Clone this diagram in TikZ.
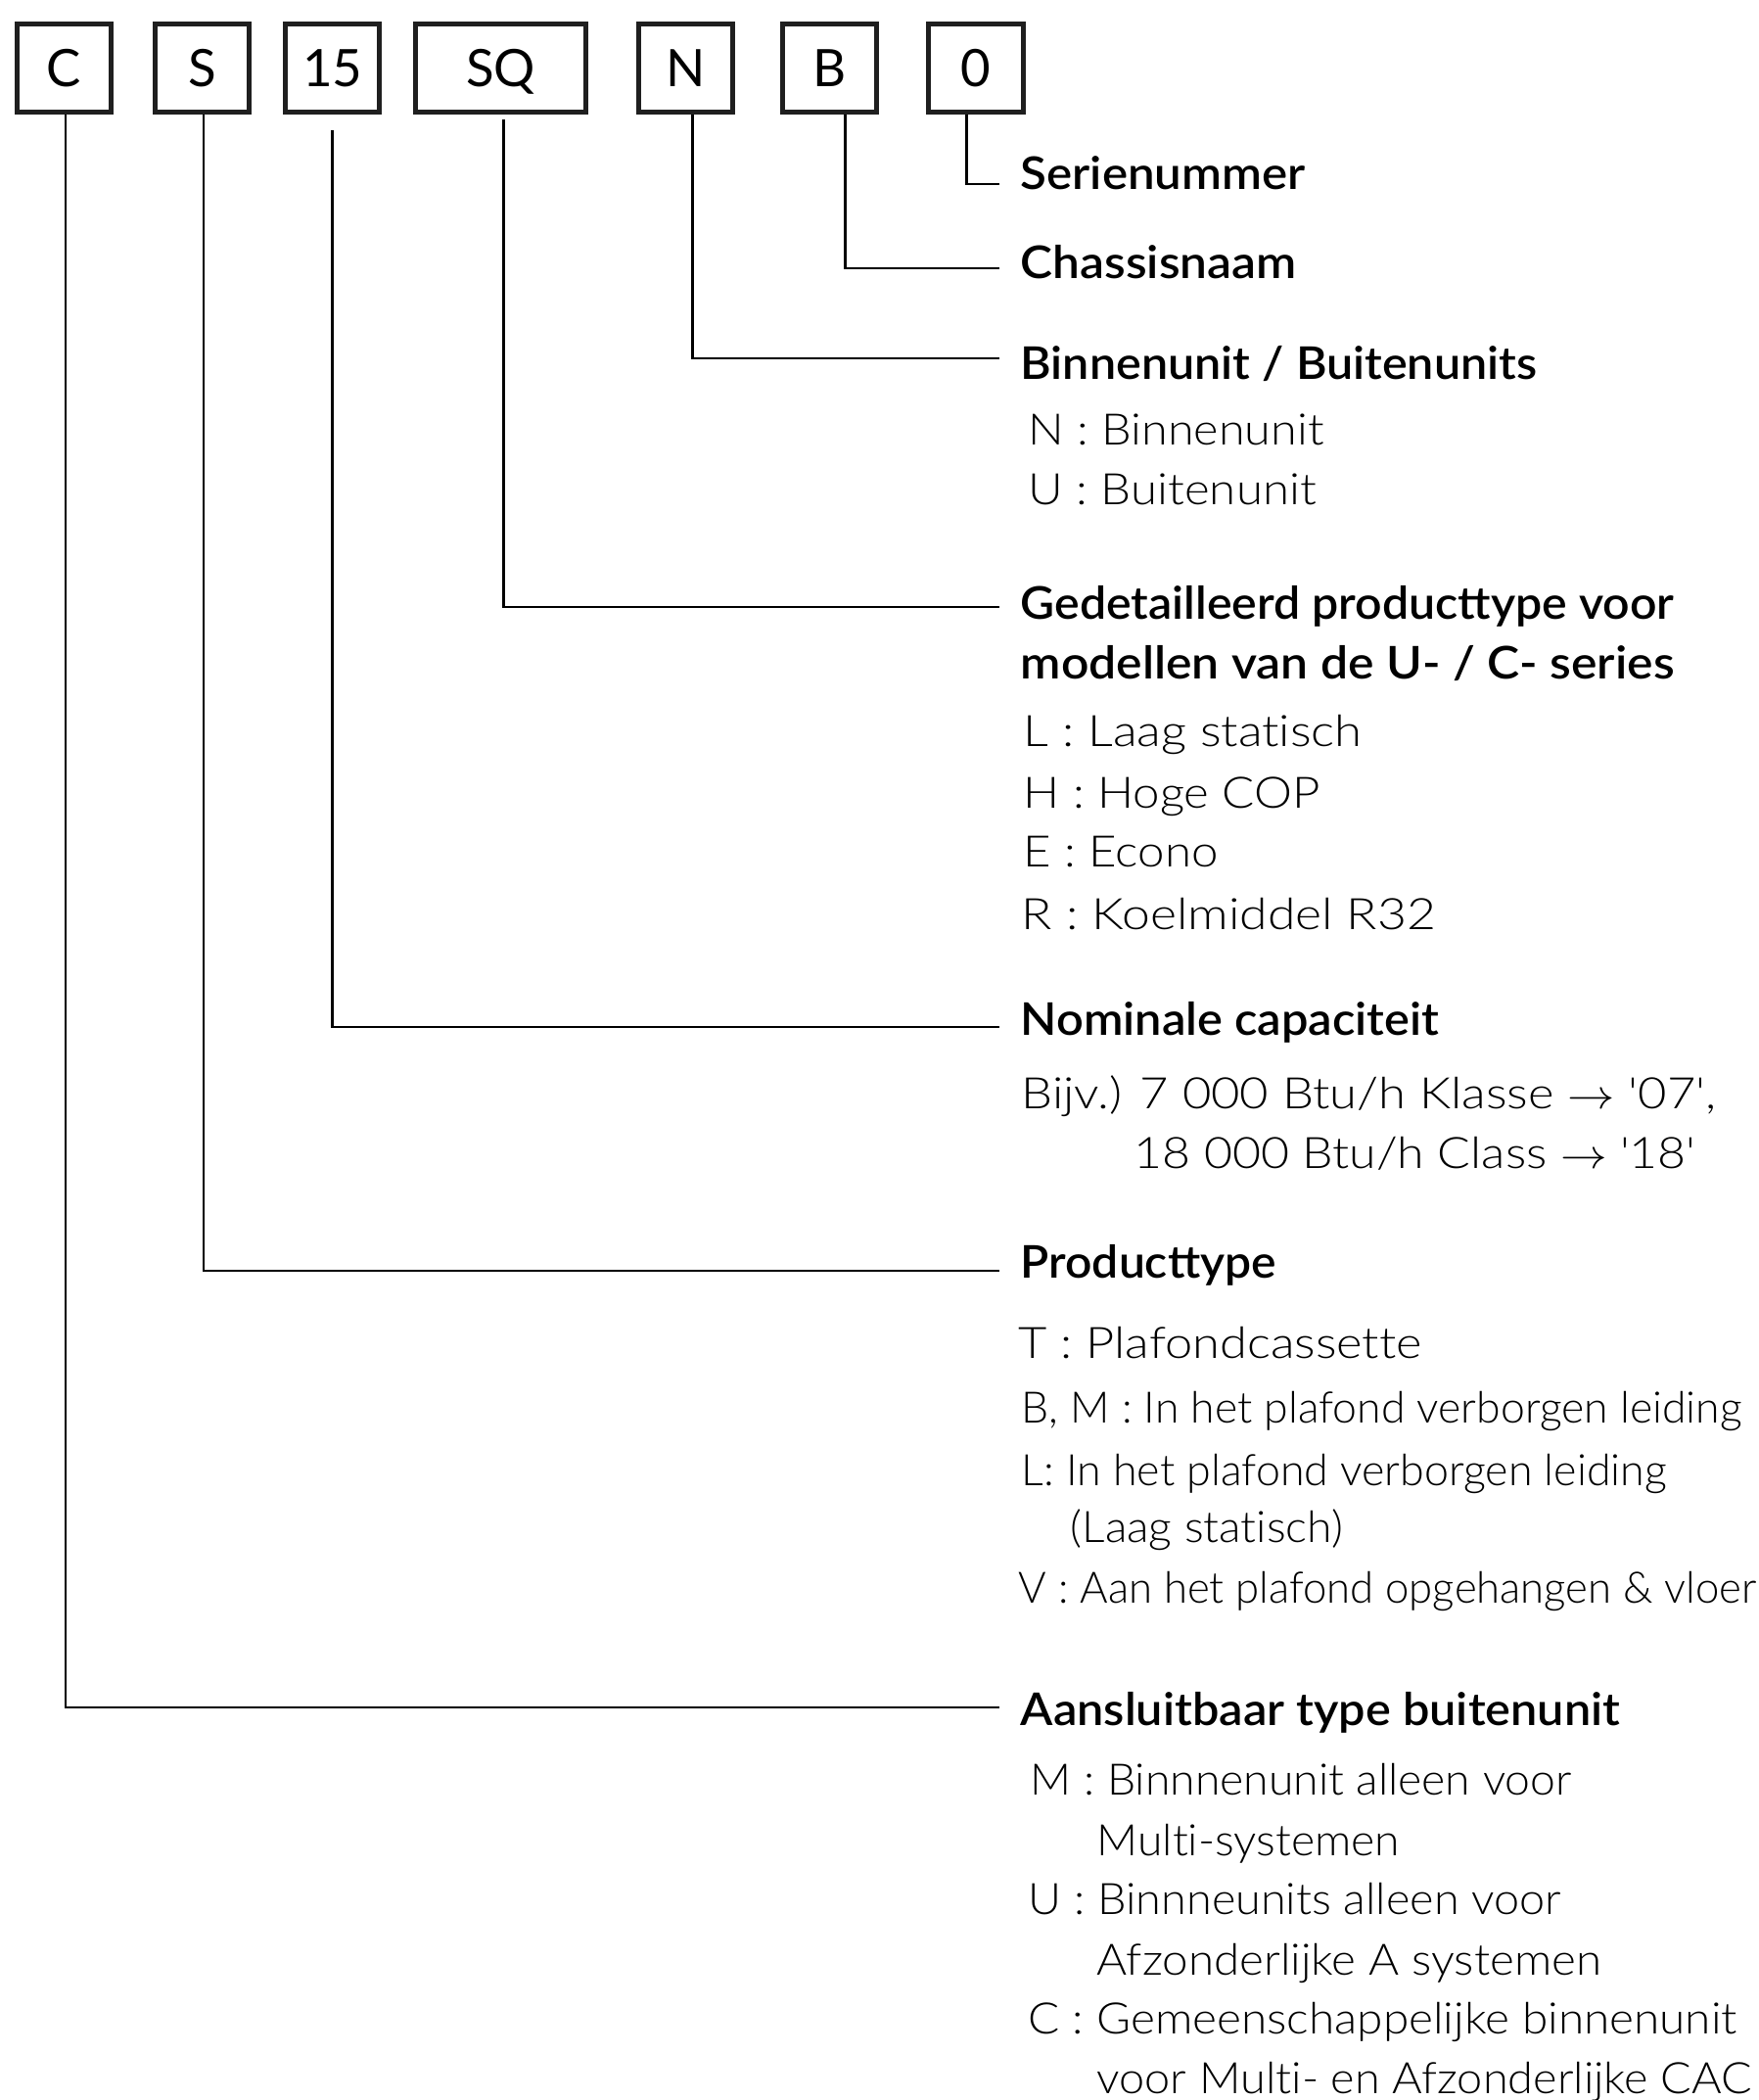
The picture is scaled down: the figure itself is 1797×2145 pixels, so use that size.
\documentclass[tikz,border=0pt]{standalone}
\usepackage{fontspec}
\usepackage{graphicx}
\setmainfont{Lato Light}[Ligatures=NoCommon]
\newfontfamily\boxfont{Lato}
\newfontfamily\headfont{Lato Semibold}
\usetikzlibrary{positioning,calc}

\begin{document}
\begin{tikzpicture}[x=0.01cm, y=-0.01cm,
  codebox/.style={draw=black!88, line width=1.42pt, minimum width=0.96cm, minimum height=0.9cm,
    inner sep=0pt, text height=0.38cm, text depth=0pt, font=\boxfont\fontsize{15}{18}\selectfont},
  head/.style={anchor=base west, inner sep=0pt, font=\headfont\fontsize{13.1}{16}\selectfont},
  item/.style={anchor=base west, inner sep=0pt, font=\fontsize{12.6}{15}\selectfont},
  leader/.style={line width=0.71pt}]
  \useasboundingbox (0,0) rectangle (1797,2145);
  % model code boxes
  \node[codebox] (typ) at (65.5,69.5) {C};
  \node[codebox, right=0.40cm of typ] (prod) {S};
  \node[codebox, right=0.32cm of prod] (capa) {15};
  \node[codebox, right=0.32cm of capa, minimum width=1.74cm] (sub) {SQ};
  \node[codebox, right=0.49cm of sub] (unit) {N};
  \node[codebox, right=0.46cm of unit] (chas) {B};
  \node[codebox, right=0.48cm of chas] (ser) {0};
  % headings
  \foreach \nm/\yy/\sx/\tx in {
    hser/193/1.069/{Serienummer},
    hchas/284/1.077/{Chassisnaam},
    hunit/387/1.053/{Binnenunit / Buitenunits},
    hsub/632/1.047/{Gedetailleerd producttype voor},
    hsub2/693/1.082/{modellen van de U- / C- series},
    hcapa/1057/1.058/{Nominale capaciteit},
    hprod/1305/1.042/{Producttype},
    htyp/1762/1.056/{Aansluitbaar type buitenunit}}
    \node[head] (\nm) at (1042,\yy) {\scalebox{\sx}[1]{\tx}};
  % explanation lines
  \foreach \nm/\xx/\yy/\sx/\tx in {
    n1/1050/454/1.096/{N : Binnenunit},
    n2/1050/515/1.11/{U : Buitenunit},
    l1/1045/762/1.148/{L : Laag statisch},
    l2/1045/825/1.11/{H : Hoge COP},
    l3/1045/885/1.11/{E : Econo},
    l4/1043/949/1.166/{R : Koelmiddel R32},
    b1/1043/1132/1.145/{Bijv.) 7 000 Btu/h Klasse $\rightarrow$ \textquotesingle07\textquotesingle,},
    b2/1158/1193/1.128/{18 000 Btu/h Class $\rightarrow$ \textquotesingle18\textquotesingle},
    t1/1040/1387/1.142/{T : Plafondcassette},
    t2/1043/1453/1.005/{B, M : In het plafond verborgen leiding},
    t3/1043/1517/1.01/{L: In het plafond verborgen leiding},
    t4/1093/1575/1.045/{(Laag statisch)},
    t5/1040/1637/0.985/{V : Aan het plafond opgehangen \& vloer},
    m1/1052/1833/1.045/{M : Binnnenunit alleen voor},
    m2/1120/1895/1.045/{Multi-systemen},
    m3/1050/1955/1.056/{U : Binnneunits alleen voor},
    m4/1120/2017/1.072/{Afzonderlijke A systemen},
    m5/1050/2077/1.077/{C : Gemeenschappelijke binnenunit},
    m6/1120/2138/1.057/{voor Multi- en Afzonderlijke CAC}}
    \node[item] (\nm) at (\xx,\yy) {\scalebox{\sx}[1]{\tx}};
  % leader ends
  \coordinate (eser) at (1021,188);
  \coordinate (echas) at (1021,274);
  \coordinate (eunit) at (1021,366);
  \coordinate (esub) at (1021,620);
  \coordinate (ecapa) at (1021,1049);
  \coordinate (eprod) at (1021,1298);
  \coordinate (etyp) at (1021,1744);
  \draw[leader] ([xshift=-0.095cm]ser.south) |- (eser);
  \draw[leader] ([xshift=0.155cm]chas.south) |- (echas);
  \draw[leader] ([xshift=0.065cm]unit.south) |- (eunit);
  \draw[leader] ([xshift=0.03cm,yshift=-0.05cm]sub.south) |- (esub);
  \draw[leader] ([yshift=-0.16cm]capa.south) |- (ecapa);
  \draw[leader] ([xshift=0.015cm]prod.south) |- (eprod);
  \draw[leader] ([xshift=0.015cm]typ.south) |- (etyp);
\end{tikzpicture}
\end{document}
